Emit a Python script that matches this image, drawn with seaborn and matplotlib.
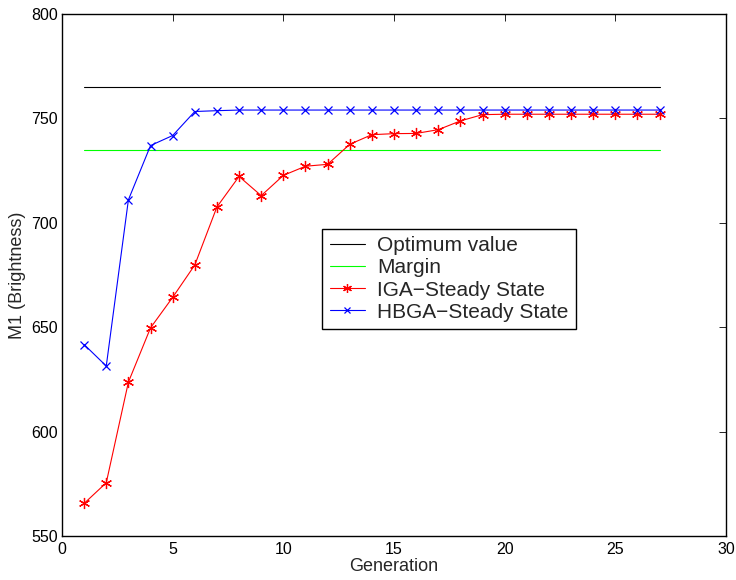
import matplotlib
matplotlib.use("Agg")
import matplotlib.pyplot as plt
import seaborn as sns
import pandas as pd

generation = list(range(1, 28))
iga = [565.6, 575.5, 623.7, 649.7, 664.3, 679.8, 707.6, 722.2, 713.0, 722.7,
       727.1, 728.0, 737.6, 742.2, 742.7, 742.8, 744.6, 748.8, 751.8, 752.0,
       752.0, 752.0, 752.0, 752.0, 752.0, 752.0, 752.0]
hbga = [641.7, 631.4, 711.0, 737.0, 741.8, 753.3, 753.7, 754.0, 754.0, 754.0,
        754.0, 754.0, 754.0, 754.0, 754.0, 754.0, 754.0, 754.0, 754.0, 754.0,
        754.0, 754.0, 754.0, 754.0, 754.0, 754.0, 754.0]
optimum_value = 765
margin_value = 735
labels = ["Optimum value", "Margin", "IGA\u2212Steady State", "HBGA\u2212Steady State"]

sns.set_style("white")
plt.rcParams['font.family'] = ['Liberation Sans', 'DejaVu Sans']

df = pd.DataFrame({
    "Generation": generation,
    "optimum": [optimum_value] * len(generation),
    "margin": [margin_value] * len(generation),
    "iga": iga,
    "hbga": hbga,
})

fig = plt.figure(figsize=(7.36, 5.8), dpi=100)
ax = fig.add_axes([62/736, 1 - 536/580, 664/736, 522/580])

sns.lineplot(data=df, x="Generation", y="optimum", ax=ax, color="black", lw=0.8, label=labels[0])
sns.lineplot(data=df, x="Generation", y="margin", ax=ax, color="#00ff00", lw=0.8, label=labels[1])
sns.lineplot(data=df, x="Generation", y="iga", ax=ax, color="red", lw=0.8,
             marker=(6, 2, 0), markersize=8, markeredgewidth=0.9, markeredgecolor="red",
             label=labels[2])
sns.lineplot(data=df, x="Generation", y="hbga", ax=ax, color="blue", lw=0.8,
             marker="x", markersize=6, markeredgewidth=0.9, markeredgecolor="blue",
             label=labels[3])

ax.set_xlim(0, 30)
ax.set_ylim(550, 800)
ax.set_xticks([0, 5, 10, 15, 20, 25, 30])
ax.set_yticks([550, 600, 650, 700, 750, 800])
ax.set_xlabel("Generation", fontsize=13, labelpad=1)
ax.set_ylabel("M1 (Brightness)", fontsize=13, labelpad=4)
ax.tick_params(direction="in", top=True, right=True, length=5, width=0.6,
               labelsize=11.5, colors="black", pad=3)
ax.tick_params(axis="x", pad=4)
for s in ax.spines.values():
    s.set_color("black")
    s.set_linewidth(1.0)

leg = ax.legend(loc="upper left", bbox_to_anchor=(0.392, 0.588), borderaxespad=0,
                fontsize=15, frameon=True, fancybox=False, edgecolor="black",
                handlelength=1.7, labelspacing=0.15, borderpad=0.35, handletextpad=0.6,
                markerscale=0.8)
leg.get_frame().set_linewidth(1.0)
leg.get_frame().set_alpha(1)

fig.savefig("out.png", dpi=100)
